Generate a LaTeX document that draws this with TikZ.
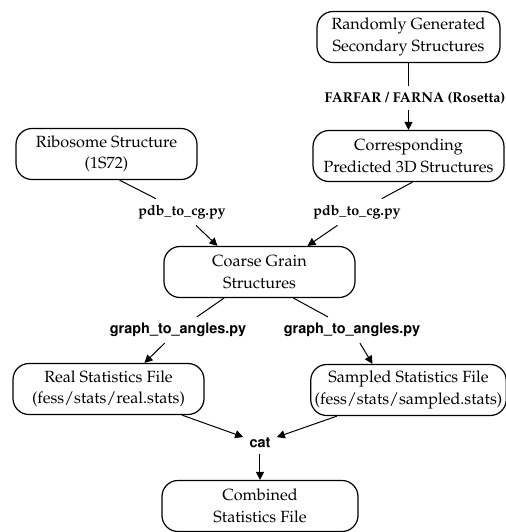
\documentclass[tikz,border=0pt]{standalone}
\usepackage[T1]{fontenc}
\usepackage{mathpazo}
\usepackage[scaled]{helvet}
\usepackage{xcolor}
\usepackage{tikz}
\usetikzlibrary{arrows.meta, calc}

\tikzset{
  stage/.style={draw, line width=0.6pt, rounded corners=8pt, align=center,
    minimum height=25.5pt, inner sep=2pt, font=\fontsize{8.1}{10.8}\selectfont},
  tool/.style={inner sep=3pt, font=\fontsize{7.1}{8.5}\selectfont\bfseries},
  script/.style={inner sep=3pt, font=\fontsize{7.6}{9}\selectfont\sffamily\bfseries},
  link/.style={line width=0.5pt},
  flow/.style={link, -{Triangle[length=4pt, width=4pt]}},
}

\begin{document}
\begin{tikzpicture}[x=0.5pt, y=-0.5pt]
\useasboundingbox (0,0) rectangle (506,532);

% structures
\node[stage, minimum width=91.5pt] (rand) at (408.5,37) {Randomly Generated\\Secondary Structures};
\node[stage, minimum width=95.5pt] (pred) at (408.5,156) {Corresponding\\Predicted 3D Structures};
\node[stage, minimum width=90.5pt] (ribo) at (106.5,154) {Ribosome Structure\\(1S72)};
\node[stage, minimum width=95.5pt] (cg) at (259.5,272) {Coarse Grain\\Structures};

% statistics files
\node[stage, minimum width=95.5pt] (real) at (108.5,389) {Real Statistics File\\(fess/stats/real.stats)};
\node[stage, minimum width=96.5pt] (samp) at (408.5,390) {Sampled Statistics File\\(fess/stats/sampled.stats)};
\node[stage, minimum width=98pt] (comb) at (260,506) {Combined\\Statistics File};

% tools on the edges
\node[tool] (far) at (415,98) {FARFAR / FARNA (Rosetta)};
\node[tool] (pdbA) at (182,212) {pdb\_to\_cg.py};
\node[tool] (pdbB) at (357,212) {pdb\_to\_cg.py};
\node[script] (angA) at (178,330) {graph\_to\_angles.py};
\node[script] (angB) at (352,330) {graph\_to\_angles.py};
\node[script] (cat) at (260,443) {cat};

\draw[link] (rand.south) -- (far.north -| rand.south);
\draw[flow] (far.south -| pred.north) -- (pred.north);

\draw[link] ([xshift=6.5pt]ribo.south) -- (pdbA);
\draw[flow] (pdbA) -- ([xshift=-21pt]cg.north);
\draw[link] ([xshift=2pt]pred.south) -- (pdbB);
\draw[flow] (pdbB) -- ([xshift=24pt]cg.north);

\draw[link] ([xshift=-17.75pt]cg.south) -- (angA);
\draw[flow] (angA) -- ([xshift=18pt]real.north);
\draw[link] ([xshift=17pt]cg.south) -- (angB);
\draw[flow] (angB) -- ([xshift=-18pt]samp.north);

\draw[flow] ([xshift=36.75pt]real.south) -- (cat);
\draw[flow] ([xshift=-35.75pt]samp.south) -- (cat);
\draw[flow] (cat) -- (comb);
\end{tikzpicture}
\end{document}
